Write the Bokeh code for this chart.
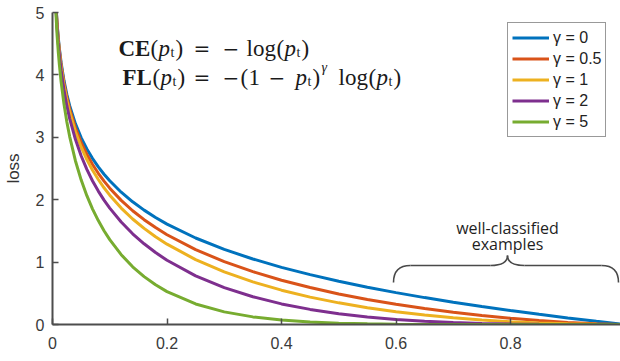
from bokeh.plotting import figure
from bokeh.models import Label
from bokeh.embed import file_html
from bokeh.resources import INLINE

# ---- data ----
p_t = [0.005, 0.008, 0.01, 0.012, 0.015, 0.02, 0.025, 0.03, 0.04, 0.05, 0.06, 0.07, 0.08, 0.09,
       0.10, 0.12, 0.14, 0.16, 0.18, 0.20, 0.25, 0.30, 0.35, 0.40, 0.45, 0.50, 0.55, 0.60, 0.65,
       0.70, 0.75, 0.80, 0.85, 0.90, 0.95, 1.00]
loss_g0 = [5.298, 4.828, 4.605, 4.423, 4.200, 3.912, 3.689, 3.507, 3.219, 2.996, 2.813, 2.659, 2.526, 2.408,
           2.303, 2.120, 1.966, 1.833, 1.715, 1.609, 1.386, 1.204, 1.050, 0.916, 0.799, 0.693, 0.598, 0.511, 0.431,
           0.357, 0.288, 0.223, 0.163, 0.105, 0.051, 0.0]
loss_g05 = [5.285, 4.809, 4.582, 4.396, 4.168, 3.873, 3.643, 3.454, 3.154, 2.920, 2.727, 2.564, 2.423, 2.297,
            2.185, 1.989, 1.823, 1.680, 1.553, 1.439, 1.200, 1.007, 0.847, 0.710, 0.593, 0.490, 0.401, 0.323, 0.255,
            0.196, 0.144, 0.100, 0.063, 0.033, 0.011, 0.0]
loss_g1 = [5.272, 4.789, 4.559, 4.370, 4.137, 3.834, 3.597, 3.402, 3.090, 2.846, 2.644, 2.473, 2.324, 2.191,
           2.073, 1.866, 1.691, 1.540, 1.406, 1.287, 1.040, 0.843, 0.683, 0.550, 0.439, 0.347, 0.269, 0.204, 0.151,
           0.107, 0.072, 0.045, 0.024, 0.011, 0.003, 0.0]
loss_g2 = [5.245, 4.751, 4.513, 4.318, 4.075, 3.757, 3.507, 3.300, 2.967, 2.704, 2.486, 2.300, 2.138, 1.994,
           1.865, 1.642, 1.454, 1.293, 1.153, 1.030, 0.780, 0.590, 0.444, 0.330, 0.242, 0.173, 0.121, 0.082, 0.053,
           0.032, 0.018, 0.009, 0.004, 0.001, 0.000, 0.0]
loss_g5 = [5.167, 4.638, 4.379, 4.164, 3.894, 3.536, 3.250, 3.012, 2.625, 2.318, 2.064, 1.850, 1.665, 1.503,
           1.360, 1.119, 0.925, 0.767, 0.636, 0.527, 0.329, 0.202, 0.122, 0.071, 0.040, 0.022, 0.011, 0.005, 0.002,
           0.001, 0.0, 0.0, 0.0, 0.0, 0.0, 0.0]

series_labels = ["γ = 0", "γ = 0.5", "γ = 1", "γ = 2", "γ = 5"]
series_values = [loss_g0, loss_g05, loss_g1, loss_g2, loss_g5]
series_colors = ["#0072BD", "#D95319", "#EDB120", "#7E2F8E", "#77AC30"]

x_ticks = [0, 0.2, 0.4, 0.6, 0.8, 1.0]
x_tick_labels = ["0", "0.2", "0.4", "0.6", "0.8", "1"]
y_ticks = [0, 1, 2, 3, 4, 5]
y_tick_labels = ["0", "1", "2", "3", "4", "5"]

annot_lines = ["well-classified", "examples"]

# ---- geometry helpers (pixel -> data for annotations) ----
X0_PX, PX_PER_X = 52, 572.5
Y0_PX, PX_PER_Y = 324, 62.4


def dx(px):
    return (px - X0_PX) / PX_PER_X


def dy(py):
    return (Y0_PX - py) / PX_PER_Y


p = figure(width=620, height=361, output_backend="svg", toolbar_location=None,
           x_range=(0, dx(620)), y_range=(0, 5),
           min_border_left=52, min_border_right=0, min_border_top=12, min_border_bottom=37)
p.outline_line_color = None
p.xgrid.visible = False
p.ygrid.visible = False
p.background_fill_color = "white"
p.border_fill_color = "white"

for lbl, vals, col in zip(series_labels, series_values, series_colors):
    p.line(p_t, vals, line_color=col, line_width=3, legend_label=lbl)

for ax in (p.xaxis[0], p.yaxis[0]):
    ax.axis_line_color = "#4d4d4d"
    ax.axis_line_width = 2
    ax.major_tick_line_color = "#4d4d4d"
    ax.major_tick_line_width = 1.5
    ax.major_tick_in = 6
    ax.major_tick_out = 0
    ax.minor_tick_line_color = None
    ax.major_label_text_font = "Liberation Sans"
    ax.major_label_text_font_size = "16px"
    ax.major_label_text_color = "#3a3a3a"

p.xaxis.ticker = x_ticks
p.xaxis.major_label_overrides = {t: l for t, l in zip(x_ticks, x_tick_labels)}
p.xaxis.major_label_standoff = 12
p.yaxis.ticker = y_ticks
p.yaxis.major_label_overrides = {t: l for t, l in zip(y_ticks, y_tick_labels)}
p.yaxis.major_label_standoff = 8
p.yaxis.axis_label = "loss"
p.yaxis.axis_label_text_font = "Liberation Sans"
p.yaxis.axis_label_text_font_style = "normal"
p.yaxis.axis_label_text_font_size = "17px"
p.yaxis.axis_label_text_color = "#333333"
p.yaxis.axis_label_standoff = 10

leg = p.legend[0]
leg.location = (455, 187)
leg.border_line_color = "#333333"
leg.border_line_width = 1.5
leg.background_fill_alpha = 1.0
leg.label_text_font = "Liberation Sans"
leg.label_text_font_size = "16px"
leg.label_text_color = "#222222"
leg.glyph_width = 37
leg.glyph_height = 21
leg.label_height = 21
leg.label_standoff = 4
leg.spacing = 0
leg.padding = 4
leg.margin = 0

# ---- equations ----
MATH_FONT = "Liberation Serif"
SYM_FONT = "DejaVu Serif"
# (text, x_px, kind)
eq1 = [("CE", 118, "bold"), ("(", 150, "n"), ("p", 158, "it"), ("t", 170, "sub"), (")", 175, "n"),
       ("=", 193, "sym"), ("−", 222, "sym"), ("log", 246, "n"), ("(", 276, "n"), ("p", 284, "it"),
       ("t", 296, "sub"), (")", 301, "n")]
eq2 = [("FL", 122, "bold"), ("(", 152, "n"), ("p", 160, "it"), ("t", 172, "sub"), (")", 177, "n"),
       ("=", 193, "sym"), ("−", 222, "sym"), ("(", 240, "n"), ("1", 248, "n"), ("−", 268, "sym"),
       ("p", 295, "it"), ("t", 307, "sub"), (")", 312, "n"), ("γ", 321, "sup"), ("log", 338, "n"),
       ("(", 368, "n"), ("p", 376, "it"), ("t", 388, "sub"), (")", 393, "n")]


def add_eq(pieces, base_py):
    for txt, xpx, kind in pieces:
        font, size, style, py = MATH_FONT, "23px", "normal", base_py
        if kind == "bold":
            style = "bold"
        elif kind == "it":
            style = "italic"
        elif kind == "sym":
            font, size = SYM_FONT, "20px"
        elif kind == "sub":
            size, py = "14px", base_py + 4
        elif kind == "sup":
            size, style, py = "14px", "italic", base_py - 10
        p.add_layout(Label(x=dx(xpx), y=dy(py), text=txt, text_font=font, text_font_size=size,
                           text_font_style=style, text_color="#1a1a1a", text_baseline="alphabetic",
                           text_align="left"))


add_eq(eq1, 48)
add_eq(eq2, 77)

# ---- brace annotation ----
BR = "#4a4a4a"
p.quadratic(x0=[dx(393), dx(507), dx(601)], y0=[dy(282), dy(255), dy(265)],
            x1=[dx(410), dx(524), dx(618)], y1=[dy(265), dy(265), dy(282)],
            cx=[dx(393), dx(507), dx(618)], cy=[dy(265), dy(265), dy(265)],
            line_color=BR, line_width=1.6)
p.quadratic(x0=[dx(490)], y0=[dy(265)], x1=[dx(507)], y1=[dy(255)], cx=[dx(507)], cy=[dy(265)],
            line_color=BR, line_width=1.6)
p.segment(x0=[dx(410), dx(524)], y0=[dy(265), dy(265)], x1=[dx(490), dx(601)], y1=[dy(265), dy(265)],
          line_color=BR, line_width=1.6)
for txt, py in zip(annot_lines, [227, 243]):
    p.add_layout(Label(x=dx(507), y=dy(py), text=txt, text_font="Open Sans", text_font_size="16px",
                       text_color="#1f1f1f", text_align="center", text_baseline="alphabetic"))

open("out.html", "w").write(file_html(p, INLINE))
